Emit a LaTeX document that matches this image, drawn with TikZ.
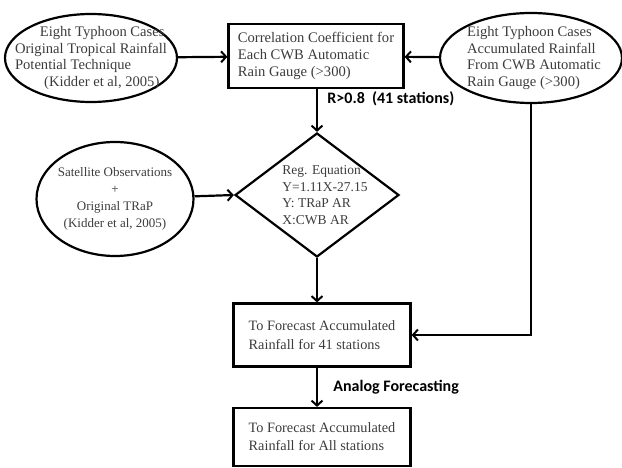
\documentclass[tikz,border=0pt]{standalone}
\usepackage{fontspec}
\setmainfont{Liberation Serif}
\newfontfamily\lblfont{Carlito}
\usetikzlibrary{arrows.meta,shapes.geometric,positioning}
\definecolor{txtgray}{RGB}{60,60,60}

\begin{document}
\begin{tikzpicture}[x=1pt,y=-1pt,
    txt/.style={font=\fontsize{14.6}{16.6}\selectfont, text=txtgray, align=left},
    oval/.style={draw=black, ellipse, line width=2.2pt, inner sep=0pt},
    box/.style={draw=black, rectangle, line width=2.2pt, inner sep=0pt, txt},
    flow/.style={line width=2.2pt, -{Straight Barb[length=5pt,width=11pt,line width=2pt]}},
    lbl/.style={font=\lblfont\bfseries\fontsize{16}{18}\selectfont, text=black}]
\useasboundingbox (0,0) rectangle (622,468);

% inputs
\node[oval, minimum width=172, minimum height=88,
    label={[txt]center:{\hspace*{1.7em}Eight Typhoon Cases\\Original Tropical Rainfall\\Potential Technique\\\hspace*{2em}(Kidder et al, 2005)}}] (cases) at (91,58) {};
\node[oval, minimum width=182, minimum height=90,
    label={[txt, xshift=3]center:{Eight Typhoon Cases\\Accumulated Rainfall\\From CWB Automatic\\Rain Gauge (>300)}}] (accum) at (531,58) {};
\node[oval, minimum width=157, minimum height=114,
    label={[txt, align=center, font=\fontsize{13}{17}\selectfont]center:{Satellite Observations\\+\\Original TRaP\\(Kidder et al, 2005)}}] (sat) at (115,199) {};

% process
\node[box, minimum width=175, minimum height=64] (corr) at (316,56)
    {Correlation Coefficient for\\Each CWB Automatic\\Rain Gauge (>300)};
\node[draw=black, diamond, line width=2.2pt, inner sep=0pt, minimum width=164, minimum height=124,
    label={[txt, font=\fontsize{13.5}{16.6}\selectfont, xshift=8]center:{Reg. Equation\\Y=1.11X-27.15\\Y: TRaP AR\\X:CWB AR}}] (reg) at (317,195) {};
\node[box, minimum width=177, minimum height=63, font=\fontsize{14.3}{19}\selectfont] (fc41) at (322,335)
    {To Forecast Accumulated\\Rainfall for 41 stations};
\node[box, minimum width=177, minimum height=58, font=\fontsize{14.3}{18}\selectfont] (fcall) at (322,437)
    {To Forecast Accumulated\\Rainfall for All stations};

\draw[flow] (cases) -- (corr);
\draw[flow] (accum) -- (corr);
\draw[flow] (corr.south -| reg.north) -- node[lbl, anchor=west, pos=0.22, xshift=6] {R>0.8\ \ (41 stations)} (reg.north);
\draw[flow] (sat) -- (reg.west);
\draw[flow] (reg.south) -- (reg.south |- fc41.north);
\draw[flow] (accum.south) |- (fc41.east);
\draw[flow] (fc41.south -| reg.south) -- node[lbl, anchor=west, xshift=12] {Analog Forecasting} (fcall.north -| reg.south);
\end{tikzpicture}
\end{document}
